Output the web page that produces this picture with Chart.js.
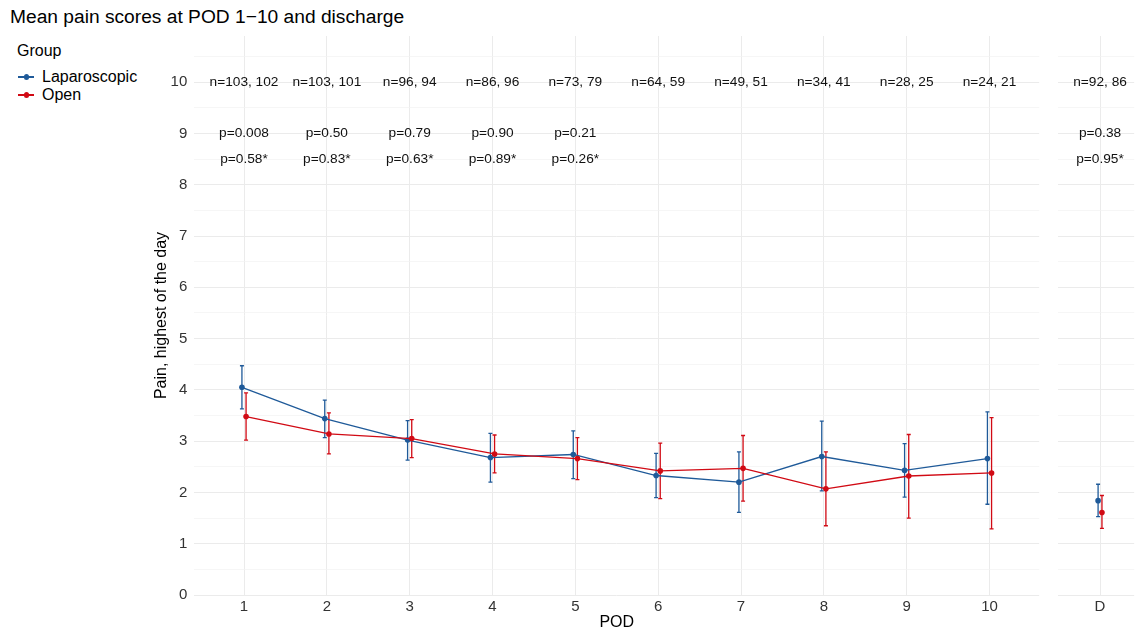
<!DOCTYPE html>
<html>
<head>
<meta charset="utf-8">
<script src="https://cdn.jsdelivr.net/npm/chart.js@4.4.0/dist/chart.umd.min.js"></script>
<style>
  html, body { margin: 0; padding: 0; background: #fff; }
  #wrap { position: relative; width: 1137px; height: 632px; overflow: hidden; font-family: 'Liberation Sans', Arial, sans-serif; }
  #title { position: absolute; left: 10px; top: 6px; font-size: 19.2px; color: #000; white-space: nowrap; }
  #legend { position: absolute; left: 0; top: 0; }
  .lgTitle { position: absolute; left: 17px; top: 42px; font-size: 16px; color: #000; white-space: nowrap; }
  .lgItem { position: absolute; left: 0; height: 18px; width: 150px; }
  .lgLine { position: absolute; left: 18px; top: 8px; width: 16px; height: 1.5px; }
  .lgDot { position: absolute; left: 23.5px; top: 6px; width: 5.5px; height: 5.5px; border-radius: 50%; }
  .lgText { position: absolute; left: 42px; top: 0; font-size: 16px; line-height: 18px; color: #000; white-space: nowrap; }
  canvas { position: absolute; top: 0; }
</style>
</head>
<body>
<div id="wrap">
  <div id="title">Mean pain scores at POD 1−10 and discharge</div>
  <div id="legend"></div>
  <canvas id="main" width="1042" height="632" style="left:0px"></canvas>
  <canvas id="dis" width="82" height="632" style="left:1055px"></canvas>
</div>
<script>
// ---------- data ----------
const groupNames = ['Laparoscopic', 'Open'];
const podX = [1, 2, 3, 4, 5, 6, 7, 8, 9, 10];
const podLabels = ['1', '2', '3', '4', '5', '6', '7', '8', '9', '10'];

const lapMean = [4.05, 3.44, 3.02, 2.68, 2.74, 2.33, 2.20, 2.70, 2.43, 2.66];
const lapLow  = [3.63, 3.07, 2.63, 2.20, 2.27, 1.90, 1.61, 2.03, 1.91, 1.77];
const lapHigh = [4.47, 3.80, 3.40, 3.15, 3.20, 2.76, 2.79, 3.39, 2.95, 3.57];

const openMean = [3.48, 3.14, 3.05, 2.75, 2.66, 2.42, 2.47, 2.07, 2.32, 2.38];
const openLow  = [3.02, 2.75, 2.68, 2.38, 2.25, 1.88, 1.83, 1.35, 1.50, 1.29];
const openHigh = [3.94, 3.55, 3.42, 3.12, 3.07, 2.96, 3.11, 2.79, 3.13, 3.46];

const nLabels = ['n=103, 102', 'n=103, 101', 'n=96, 94', 'n=86, 96', 'n=73, 79',
                 'n=64, 59', 'n=49, 51', 'n=34, 41', 'n=28, 25', 'n=24, 21'];
const pLabels = ['p=0.008', 'p=0.50', 'p=0.79', 'p=0.90', 'p=0.21', '', '', '', '', ''];
const pAdjLabels = ['p=0.58*', 'p=0.83*', 'p=0.63*', 'p=0.89*', 'p=0.26*', '', '', '', '', ''];

const disX = [1];
const disLabels = ['D'];
const disLapMean = [1.84], disLapLow = [1.53], disLapHigh = [2.16];
const disOpenMean = [1.61], disOpenLow = [1.30], disOpenHigh = [1.94];
const disN = ['n=92, 86'];
const disP = ['p=0.38'];
const disPAdj = ['p=0.95*'];

const yMajorTicks = [0, 1, 2, 3, 4, 5, 6, 7, 8, 9, 10];

// ---------- styling ----------
const BLUE = '#1f5a99';
const RED = '#d10a14';
const FONT = "'Liberation Sans', Arial, sans-serif";
const DODGE = 0.025;
const Y_MIN = 0, Y_MAX = 10.9;
const N_ROW = 10, P_ROW = 9, PADJ_ROW = 8.5;

Chart.defaults.font.family = FONT;
Chart.defaults.devicePixelRatio = 1;

// legend (HTML)
(function () {
  const lg = document.getElementById('legend');
  const t = document.createElement('div');
  t.className = 'lgTitle'; t.textContent = 'Group';
  lg.appendChild(t);
  const cols = [BLUE, RED];
  const tops = [68, 86];
  groupNames.forEach((g, i) => {
    const it = document.createElement('div');
    it.className = 'lgItem'; it.style.top = tops[i] + 'px';
    it.innerHTML = '<div class="lgLine" style="background:' + cols[i] + '"></div>' +
                   '<div class="lgDot" style="background:' + cols[i] + '"></div>' +
                   '<div class="lgText">' + g + '</div>';
    lg.appendChild(it);
  });
})();

function pts(xs, ys, sign) { return xs.map((x, i) => ({ x: x + sign * DODGE, y: ys[i] })); }

const yGrid = yMajorTicks.concat(yMajorTicks.map(v => v + 0.5)).filter(v => v <= Y_MAX).sort((a, b) => a - b);

const errorBars = {
  id: 'errorBars',
  beforeDatasetsDraw(chart) {
    const { ctx, scales: { x, y } } = chart;
    chart.data.datasets.forEach(ds => {
      ctx.save();
      ctx.strokeStyle = ds.borderColor;
      ctx.lineWidth = 1.3;
      ds.data.forEach((p, i) => {
        const px = x.getPixelForValue(p.x);
        const t = y.getPixelForValue(ds.errHi[i]);
        const b = y.getPixelForValue(ds.errLo[i]);
        ctx.beginPath();
        ctx.moveTo(px, t); ctx.lineTo(px, b);
        ctx.moveTo(px - 2, t); ctx.lineTo(px + 2, t);
        ctx.moveTo(px - 2, b); ctx.lineTo(px + 2, b);
        ctx.stroke();
      });
      ctx.restore();
    });
  }
};

function textRows(xs, rows) {
  return {
    id: 'textRows',
    afterDatasetsDraw(chart) {
      const { ctx, scales: { x, y } } = chart;
      ctx.save();
      ctx.font = '13.7px ' + FONT;
      ctx.fillStyle = '#111';
      ctx.textAlign = 'center';
      ctx.textBaseline = 'middle';
      rows.forEach(r => {
        const py = y.getPixelForValue(r.y);
        xs.forEach((xv, i) => {
          if (r.labels[i]) ctx.fillText(r.labels[i], x.getPixelForValue(xv), py);
        });
      });
      ctx.restore();
    }
  };
}

function makeDatasets(xs, lm, ll, lh, om, ol, oh) {
  const base = { borderWidth: 1.3, pointRadius: 2.8, pointHoverRadius: 2.8, pointBorderWidth: 0, tension: 0, fill: false, showLine: true };
  return [
    Object.assign({}, base, { label: groupNames[0], data: pts(xs, lm, -1), errLo: ll, errHi: lh, borderColor: BLUE, backgroundColor: BLUE, order: 1 }),
    Object.assign({}, base, { label: groupNames[1], data: pts(xs, om, 1), errLo: ol, errHi: oh, borderColor: RED, backgroundColor: RED, order: 0 })
  ];
}

function yScale(withLabels) {
  return {
    type: 'linear', min: Y_MIN, max: Y_MAX,
    afterBuildTicks: s => { s.ticks = yGrid.map(v => ({ value: v })); },
    ticks: {
      display: withLabels,
      callback: v => Number.isInteger(v) ? String(v) : '',
      font: { size: 15 }, color: '#333', padding: 7, autoSkip: false
    },
    grid: {
      drawTicks: false,
      color: c => Number.isInteger(c.tick.value) ? '#ebebeb' : '#f2f2f2',
      lineWidth: c => Number.isInteger(c.tick.value) ? 1 : 0.7
    },
    border: { display: false },
    title: withLabels ? { display: true, text: 'Pain, highest of the day', font: { size: 16 }, color: '#000', padding: { top: 12, bottom: 0 } } : { display: false },
    afterFit: s => { s.width = withLabels ? 54.3 : 0; }
  };
}

function xScale(xs, labels, min, max, withTitle) {
  return {
    type: 'linear', min: min, max: max,
    afterBuildTicks: s => { s.ticks = xs.map(v => ({ value: v })); },
    ticks: {
      callback: v => labels[xs.indexOf(v)],
      font: { size: 15 }, color: '#333', padding: 3, autoSkip: false, maxRotation: 0
    },
    grid: { drawTicks: false, color: '#ebebeb', lineWidth: 1 },
    border: { display: false },
    title: withTitle ? { display: true, text: 'POD', font: { size: 16 }, color: '#000', padding: { top: 0, bottom: 0 } } : { display: false },
    afterFit: s => { s.height = 37; }
  };
}

const commonOpts = {
  responsive: false, animation: false, devicePixelRatio: 1,
  plugins: { legend: { display: false }, tooltip: { enabled: false } },
  events: []
};

new Chart(document.getElementById('main'), {
  type: 'scatter',
  data: { datasets: makeDatasets(podX, lapMean, lapLow, lapHigh, openMean, openLow, openHigh) },
  options: Object.assign({}, commonOpts, {
    layout: { padding: { left: 140, top: 36, right: 1.3, bottom: 0 } },
    scales: { x: xScale(podX, podLabels, 0.4, 10.6, true), y: yScale(true) }
  }),
  plugins: [errorBars, textRows(podX, [
    { y: N_ROW, labels: nLabels }, { y: P_ROW, labels: pLabels }, { y: PADJ_ROW, labels: pAdjLabels }
  ])]
});

new Chart(document.getElementById('dis'), {
  type: 'scatter',
  data: { datasets: makeDatasets(disX, disLapMean, disLapLow, disLapHigh, disOpenMean, disOpenLow, disOpenHigh) },
  options: Object.assign({}, commonOpts, {
    layout: { padding: { left: 0, top: 36, right: 0, bottom: 0 } },
    scales: { x: xScale(disX, disLabels, 0.454, 1.442, false), y: yScale(false) }
  }),
  plugins: [errorBars, textRows(disX, [
    { y: N_ROW, labels: disN }, { y: P_ROW, labels: disP }, { y: PADJ_ROW, labels: disPAdj }
  ])]
});
</script>
</body>
</html>
